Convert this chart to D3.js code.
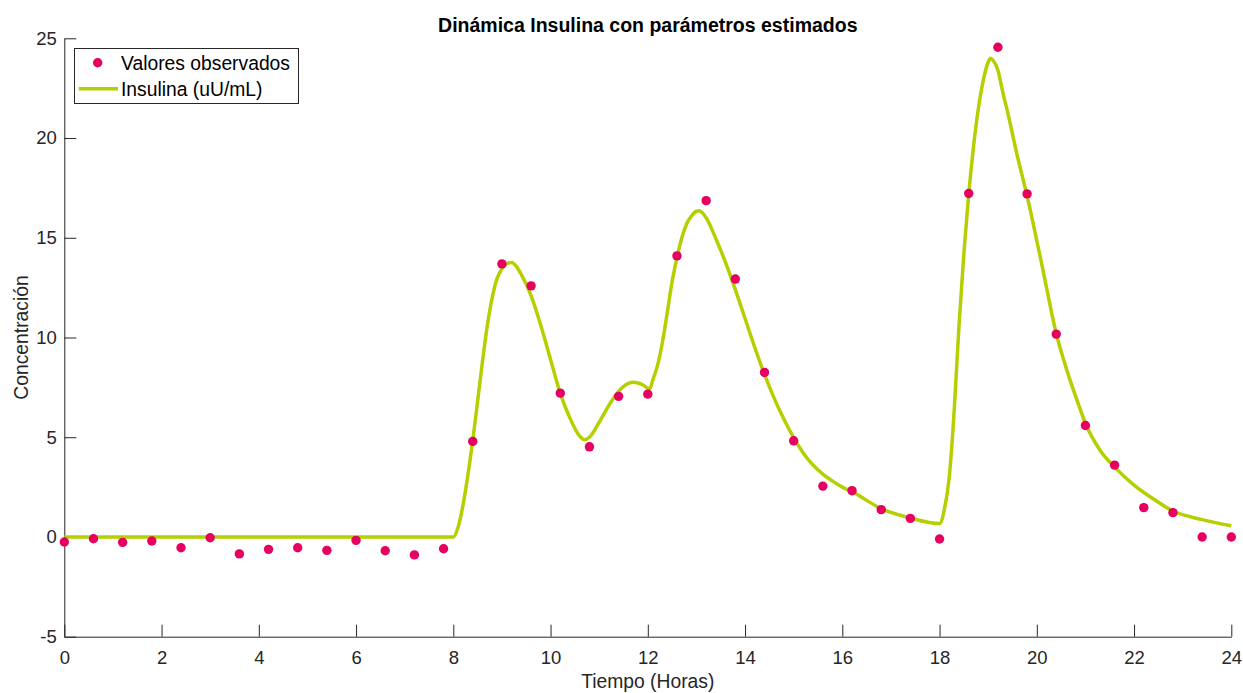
<!DOCTYPE html>
<html>
<head>
<meta charset="utf-8">
<script src="https://cdn.jsdelivr.net/npm/d3@7"></script>
<style>
  html, body { margin: 0; padding: 0; background: #fff; }
  svg { display: block; font-family: "Liberation Sans", Arial, Helvetica, sans-serif; }
</style>
</head>
<body>
<svg id="chart" width="1243" height="693"></svg>
<script>
// Observed insulin samples (every 0.6 h)
const obsTime = [0, 0.6, 1.2, 1.8, 2.4, 3.0, 3.6, 4.2, 4.8, 5.4, 6.0, 6.6, 7.2, 7.8,
  8.4, 9.0, 9.6, 10.2, 10.8, 11.4, 12.0, 12.6, 13.2, 13.8, 14.4, 15.0, 15.6, 16.2,
  16.8, 17.4, 18.0, 18.6, 19.2, 19.8, 20.4, 21.0, 21.6, 22.2, 22.8, 23.4, 24.0];
const obsValue = [-0.25, -0.09, -0.27, -0.2, -0.54, -0.04, -0.85, -0.62, -0.54, -0.67, -0.17, -0.69, -0.9, -0.59,
  4.79, 13.69, 12.59, 7.21, 4.52, 7.05, 7.16, 14.09, 16.86, 12.93, 8.25, 4.82, 2.55, 2.32,
  1.37, 0.93, -0.1, 17.22, 24.55, 17.2, 10.17, 5.59, 3.6, 1.47, 1.22, 0.0, 0.0];

// Model response with the estimated parameters
const modelTime = [0, 8.0, 8.1, 8.2, 8.3, 8.4, 8.5, 8.6, 8.7, 8.8, 8.9, 9.0, 9.1, 9.2, 9.3, 9.4,
  9.6, 9.8, 10.0, 10.2, 10.4, 10.6, 10.7, 10.8, 11.0, 11.2, 11.4, 11.6, 11.7, 11.8, 11.9, 12.04,
  12.1, 12.2, 12.3, 12.4, 12.5, 12.6, 12.7, 12.8, 12.9, 13.0, 13.05, 13.1, 13.2, 13.4, 13.6, 13.8,
  14.0, 14.2, 14.4, 14.6, 14.8, 15.0, 15.2, 15.4, 15.6, 15.8, 16.0, 16.2, 16.8, 17.4, 18.0,
  18.1, 18.2, 18.3, 18.4, 18.5, 18.6, 18.7, 18.8, 18.9, 19.0, 19.05, 19.1, 19.2, 19.3, 19.4,
  19.5, 19.6, 19.7, 19.8, 19.9, 20.0, 20.1, 20.2, 20.3, 20.4, 20.55, 20.7, 20.85, 21.0, 21.3,
  21.6, 22.0, 22.4, 22.8, 23.4, 24.0];
const modelValue = [0, 0, 0.5, 1.6, 3.1, 4.85, 6.8, 8.8, 10.6, 12.0, 12.95, 13.45, 13.7, 13.76, 13.55, 13.15,
  12.1, 10.6, 8.9, 7.2, 5.95, 5.05, 4.88, 5.0, 5.75, 6.6, 7.3, 7.7, 7.76, 7.72, 7.62, 7.42,
  7.85, 8.6, 9.75, 11.25, 12.8, 14.0, 15.0, 15.7, 16.1, 16.33, 16.35, 16.3, 16.0, 14.95, 13.75, 12.4,
  10.95, 9.5, 8.15, 6.95, 5.9, 4.98, 4.2, 3.6, 3.15, 2.8, 2.5, 2.27, 1.42, 0.95, 0.67,
  1.4, 3.0, 6.3, 10.6, 14.2, 17.2, 19.6, 21.5, 22.9, 23.8, 24.0, 23.9, 23.4, 22.3, 21.3,
  20.2, 19.1, 18.1, 17.1, 16.0, 14.85, 13.7, 12.5, 11.3, 10.2, 8.9, 7.75, 6.7, 5.7, 4.35,
  3.5, 2.6, 1.9, 1.3, 0.87, 0.56];

const xTicks = d3.range(0, 25, 2);
const yTicks = [-5, 0, 5, 10, 15, 20, 25];

const colDots = "#e6005f";
const colLine = "#b5cf00";
const colAxis = "#262626";

const svg = d3.select("#chart");
const plotLeft = 64.3, plotRight = 1231.3, plotTop = 38.3, plotBottom = 636.7;

const x = d3.scaleLinear().domain([0, 24]).range([plotLeft, plotRight]);
const y = d3.scaleLinear().domain([-5, 25]).range([plotBottom, plotTop]);

// Plain hyphen for negative labels
const fmt = d => String(d);

// Axes (ticks pointing inward, no box)
const gx = svg.append("g")
  .attr("transform", `translate(0,${plotBottom})`)
  .call(d3.axisBottom(x).tickValues(xTicks).tickFormat(fmt)
    .tickSizeInner(-12).tickSizeOuter(0).tickPadding(14.5));
const gy = svg.append("g")
  .attr("transform", `translate(${plotLeft},0)`)
  .call(d3.axisLeft(y).tickValues(yTicks).tickFormat(fmt)
    .tickSizeInner(-12).tickSizeOuter(0).tickPadding(7.6));

[gx, gy].forEach(g => {
  g.select(".domain").attr("stroke", colAxis).attr("stroke-width", 1);
  g.selectAll(".tick line").attr("stroke", colAxis).attr("stroke-width", 1);
  g.selectAll(".tick text").attr("fill", colAxis)
    .style("font-size", "18.5px").style("font-family", "'Liberation Sans', Arial, sans-serif");
});

// Model curve
const line = d3.line()
  .x((d, i) => x(modelTime[i]))
  .y(d => y(d))
  .curve(d3.curveMonotoneX);

svg.append("path")
  .datum(modelValue)
  .attr("d", line)
  .attr("fill", "none")
  .attr("stroke", colLine)
  .attr("stroke-width", 3.5)
  .attr("stroke-linejoin", "round");

// Observed points
svg.append("g").selectAll("circle")
  .data(obsValue)
  .join("circle")
  .attr("cx", (d, i) => x(obsTime[i]))
  .attr("cy", d => y(d))
  .attr("r", 4.7)
  .attr("fill", colDots);

// Title and axis labels
svg.append("text")
  .attr("x", (plotLeft + plotRight) / 2).attr("y", 31.5)
  .attr("text-anchor", "middle")
  .style("font-size", "19.5px").style("font-weight", "bold")
  .attr("fill", "#000")
  .text("Dinámica Insulina con parámetros estimados");

svg.append("text")
  .attr("x", (plotLeft + plotRight) / 2).attr("y", 688.3)
  .attr("text-anchor", "middle")
  .style("font-size", "19.3px")
  .attr("fill", colAxis)
  .text("Tiempo (Horas)");

svg.append("text")
  .attr("transform", `translate(27.5,${(plotTop + plotBottom) / 2}) rotate(-90)`)
  .attr("text-anchor", "middle")
  .style("font-size", "19.3px")
  .attr("fill", colAxis)
  .text("Concentración");

// Legend
const lg = svg.append("g");
lg.append("rect")
  .attr("x", 74.5).attr("y", 48.5).attr("width", 224).attr("height", 55)
  .attr("fill", "#fff").attr("stroke", colAxis).attr("stroke-width", 1);
lg.append("circle").attr("cx", 97.7).attr("cy", 62.7).attr("r", 4.7).attr("fill", colDots);
lg.append("line")
  .attr("x1", 78.7).attr("x2", 118).attr("y1", 88.7).attr("y2", 88.7)
  .attr("stroke", colLine).attr("stroke-width", 3.5);
lg.append("text").attr("x", 121).attr("y", 69.5)
  .style("font-size", "19.3px").attr("fill", "#000").text("Valores observados");
lg.append("text").attr("x", 121).attr("y", 95.5)
  .style("font-size", "19.3px").attr("fill", "#000").text("Insulina (uU/mL)");
</script>
</body>
</html>
